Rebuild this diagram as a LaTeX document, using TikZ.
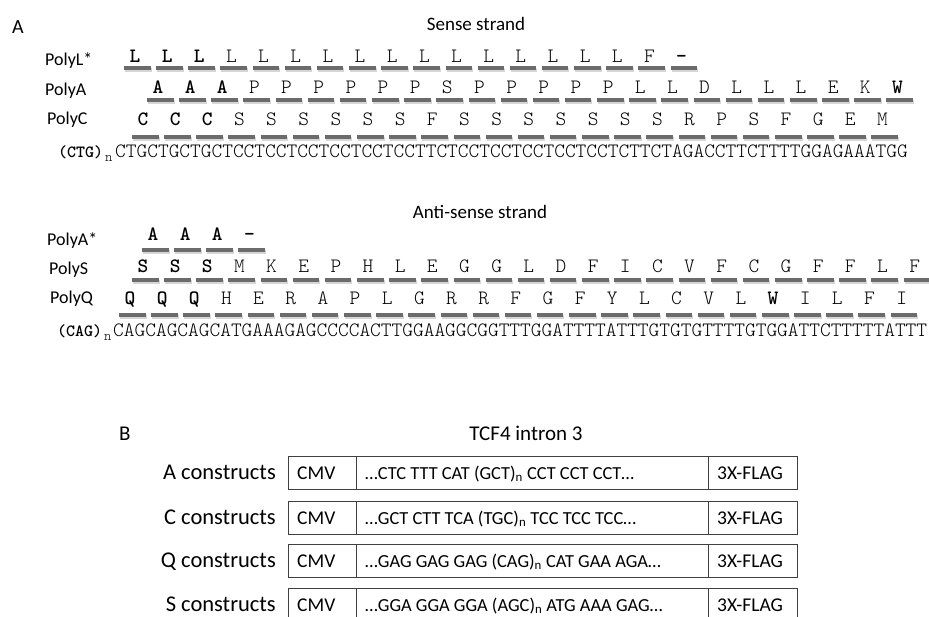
\documentclass[tikz,border=0pt]{standalone}
\usepackage{fontspec}
\setmainfont{Carlito}
\usetikzlibrary{positioning}

\def\seqfont{\fontfamily{lmtt}\fontseries{l}\fontsize{20.4}{24}\selectfont}
\def\bx#1{{\fontseries{b}\selectfont #1}}

\tikzset{
  aa/.style={anchor=base, inner sep=0pt, font=\seqfont},
  bar/.style={line width=3.2pt, black!58},
  barshade/.style={line width=3.5pt, black!16},
  seq/.style={anchor=base west, inner sep=0pt, font=\seqfont},
  seqbold/.style={anchor=base west, inner sep=0pt, font=\fontfamily{lmtt}\fontseries{b}\fontsize{17.1}{20}\selectfont},
  seqsub/.style={anchor=base west, inner sep=0pt, font=\fontfamily{lmtt}\fontseries{l}\fontsize{14}{16}\selectfont},
  strandlabel/.style={anchor=base west, inner sep=0pt, font=\fontsize{18}{20}\selectfont},
  title/.style={anchor=base, inner sep=0pt, font=\fontsize{19}{22}\selectfont},
  box/.style={draw=black!75, line width=0.9pt},
  bxlabel/.style={anchor=base east, inner sep=0pt, font=\fontsize{22.5}{26}\selectfont},
  bxtext/.style={anchor=base west, inner sep=0pt, font=\fontsize{19.5}{22}\selectfont},
  bxmid/.style={bxtext, font=\fontsize{18.4}{22}\selectfont}
}

% one row of amino acids: name, baseline, bar y, first x, letters
\def\aarow#1#2#3#4#5{%
  \foreach \aa [count=\i from 0] in {#5}{%
    \draw[barshade] ({#4+32.15*\i-10},#3+2) -- ++(26.5,0);
    \draw[bar] ({#4+32.15*\i-11},#3) -- ++(26.5,0);
    \node[aa] (#1-\i) at ({#4+32.15*\i},#2) {\aa};
  }}

% one construct: name, top y, label, middle text
\def\construct#1#2#3#4{%
  \draw[box] (288,#2) rectangle (356,#2+33);
  \draw[box] (356,#2) rectangle (708,#2+33);
  \draw[box] (708,#2) rectangle (797,#2+33);
  \node[bxlabel] (#1-lab) at (276,#2+23) {#3 constructs};
  \node[bxtext] (#1-cmv) at (297,#2+23) {CMV};
  \node[bxmid] (#1-mid) at (365,#2+23) {#4};
  \node[bxtext] (#1-flag) at (717,#2+23) {3X-FLAG};
}

\begin{document}
\begin{tikzpicture}[x=1pt,y=-1pt]
  %%%%% START %%%%%
  \useasboundingbox (0,0) rectangle (929,616);

  % A: sense strand
  \node[title, anchor=base west, font=\fontsize{20}{22}\selectfont] (a-mark) at (12,33) {A};
  \node[title] (sense-title) at (476,30) {Sense strand};

  \node[strandlabel] (polyl-lab) at (45,65) {PolyL*};
  \node[strandlabel] (polya-lab) at (45,95) {PolyA};
  \node[strandlabel] (polyc-lab) at (47,124) {PolyC};

  \aarow{polyl}{62}{68}{135}{\bx{L},\bx{L},\bx{L},L,L,L,L,L,L,L,L,L,L,L,L,L,F,\bx{-}}
  \aarow{polya}{93}{100}{158}{\bx{A},\bx{A},\bx{A},P,P,P,P,P,P,S,P,P,P,P,P,L,L,D,L,L,L,E,K,\bx{W}}
  \aarow{polyc}{125}{137}{143}{\bx{C},\bx{C},\bx{C},S,S,S,S,S,S,F,S,S,S,S,S,S,S,R,P,S,F,G,E,M}

  \node[seqbold] (ctg) at (58,157) {(CTG)};
  \node[seqsub] (ctg-n) at (105,161) {n};
  \node[seq] (sense-seq) at (115,157) {CTGCTGCTGCTCCTCCTCCTCCTCCTCCTTCTCCTCCTCCTCCTCCTCTTCTAGACCTTCTTTTGGAGAAATGG};

  % A: anti-sense strand
  \node[title] (anti-title) at (480,218) {Anti-sense strand};

  \node[strandlabel] (polyas-lab) at (47,245) {PolyA*};
  \node[strandlabel] (polys-lab) at (49,274) {PolyS};
  \node[strandlabel] (polyq-lab) at (50,303) {PolyQ};

  \aarow{polyas}{240}{250}{153}{\bx{A},\bx{A},\bx{A},\bx{-}}
  \aarow{polys}{272}{280}{143}{\bx{S},\bx{S},\bx{S},M,K,E,P,H,L,E,G,G,L,D,F,I,C,V,F,C,G,F,F,L,F}
  \aarow{polyq}{304}{315}{130}{\bx{Q},\bx{Q},\bx{Q},H,E,R,A,P,L,G,R,R,F,G,F,Y,L,C,V,L,\bx{W},I,L,F,I}

  \node[seqbold] (cag) at (57,336) {(CAG)};
  \node[seqsub] (cag-n) at (104,340) {n};
  \node[seq] (anti-seq) at (113,336) {CAGCAGCAGCATGAAAGAGCCCCACTTGGAAGGCGGTTTGGATTTTATTTGTGTGTTTTGTGGATTCTTTTTATTT};

  % B: constructs
  \node[title, anchor=base west, font=\fontsize{21}{24}\selectfont] (b-mark) at (119,440) {B};
  \node[title, font=\fontsize{21}{24}\selectfont] (intron-title) at (526,440) {TCF4 intron 3};

  \construct{acon}{456}{A}{…CTC TTT CAT (GCT)\textsubscript{n} CCT CCT CCT…}
  \construct{ccon}{501}{C}{…GCT CTT TCA (TGC)\textsubscript{n} TCC TCC TCC…}
  \construct{qcon}{544}{Q}{…GAG GAG GAG (CAG)\textsubscript{n} CAT GAA AGA…}
  \construct{scon}{588}{S}{…GGA GGA GGA (AGC)\textsubscript{n} ATG AAA GAG…}

  %%%%% END %%%%%
\end{tikzpicture}
\end{document}
